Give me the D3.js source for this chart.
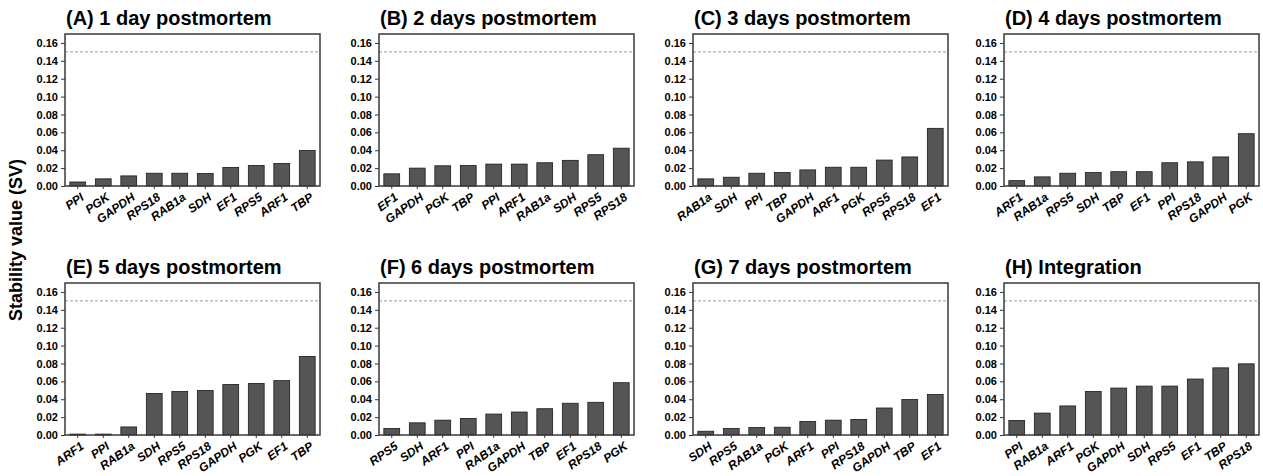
<!DOCTYPE html>
<html>
<head>
<meta charset="utf-8">
<script src="https://cdn.jsdelivr.net/npm/d3@7"></script>
<style>
  body { margin: 0; background: #fff; }
  #chart svg { display: block; font-family: "Liberation Sans", Arial, sans-serif; }
  .tick text { font-weight: bold; }
</style>
</head>
<body>
<div id="chart"></div>
<script>
const titles = [
  '(A) 1 day postmortem', '(B) 2 days postmortem', '(C) 3 days postmortem', '(D) 4 days postmortem',
  '(E) 5 days postmortem', '(F) 6 days postmortem', '(G) 7 days postmortem', '(H) Integration'
];

const genesA = ['PPI', 'PGK', 'GAPDH', 'RPS18', 'RAB1a', 'SDH', 'EF1', 'RPS5', 'ARF1', 'TBP'];
const valuesA = [0.0045, 0.008, 0.0113, 0.0143, 0.0143, 0.014, 0.0208, 0.023, 0.0253, 0.0396];

const genesB = ['EF1', 'GAPDH', 'PGK', 'TBP', 'PPI', 'ARF1', 'RAB1a', 'SDH', 'RPS5', 'RPS18'];
const valuesB = [0.0136, 0.020, 0.0226, 0.023, 0.0245, 0.0245, 0.026, 0.0287, 0.035, 0.0423];

const genesC = ['RAB1a', 'SDH', 'PPI', 'TBP', 'GAPDH', 'ARF1', 'PGK', 'RPS5', 'RPS18', 'EF1'];
const valuesC = [0.008, 0.0098, 0.0143, 0.015, 0.018, 0.021, 0.021, 0.029, 0.0325, 0.0645];

const genesD = ['ARF1', 'RAB1a', 'RPS5', 'SDH', 'TBP', 'EF1', 'PPI', 'RPS18', 'GAPDH', 'PGK'];
const valuesD = [0.006, 0.0102, 0.0143, 0.015, 0.016, 0.016, 0.026, 0.027, 0.0325, 0.0585];

const genesE = ['ARF1', 'PPI', 'RAB1a', 'SDH', 'RPS5', 'RPS18', 'GAPDH', 'PGK', 'EF1', 'TBP'];
const valuesE = [0.001, 0.001, 0.009, 0.0464, 0.0487, 0.0498, 0.0566, 0.0577, 0.0608, 0.0879];

const genesF = ['RPS5', 'SDH', 'ARF1', 'PPI', 'RAB1a', 'GAPDH', 'TBP', 'EF1', 'RPS18', 'PGK'];
const valuesF = [0.0072, 0.0136, 0.0166, 0.0185, 0.0234, 0.0257, 0.0294, 0.0355, 0.0366, 0.0585];

const genesG = ['SDH', 'RPS5', 'RAB1a', 'PGK', 'ARF1', 'PPI', 'RPS18', 'GAPDH', 'TBP', 'EF1'];
const valuesG = [0.0042, 0.0072, 0.0083, 0.0087, 0.0151, 0.0166, 0.0174, 0.0302, 0.0396, 0.0453];

const genesH = ['PPI', 'RAB1a', 'ARF1', 'PGK', 'GAPDH', 'SDH', 'RPS5', 'EF1', 'TBP', 'RPS18'];
const valuesH = [0.0162, 0.0245, 0.0325, 0.0487, 0.0525, 0.0547, 0.0547, 0.0626, 0.0751, 0.0796];

const yTicks = [0, 0.02, 0.04, 0.06, 0.08, 0.10, 0.12, 0.14, 0.16];
const cutoff = 0.15;
const yMax = 0.17;

const panels = [
  [genesA, valuesA], [genesB, valuesB], [genesC, valuesC], [genesD, valuesD],
  [genesE, valuesE], [genesF, valuesF], [genesG, valuesG], [genesH, valuesH]
];

const draw = () => {
  const dimensions = {
    width: 1263,
    height: 476,
    panelWidth: 255,
    panelHeight: 152,
    colLeft: [65, 379, 693, 1004],
    rowTop: [34, 283]
  };

  const svg = d3.select('#chart')
    .append('svg')
    .attr('width', dimensions.width)
    .attr('height', dimensions.height);

  svg.append('text')
    .attr('transform', 'translate(22, 240) rotate(-90)')
    .attr('text-anchor', 'middle')
    .attr('font-size', 18)
    .attr('font-weight', 'bold')
    .text('Stability value (SV)');

  const yScale = d3.scaleLinear()
    .domain([0, yMax])
    .range([dimensions.panelHeight, 0]);

  panels.forEach(([genes, values], i) => {
    const left = dimensions.colLeft[i % 4];
    const top = dimensions.rowTop[Math.floor(i / 4)];

    const container = svg.append('g')
      .attr('transform', `translate(${left}, ${top})`);

    const xScale = d3.scaleBand()
      .domain(genes)
      .range([0, dimensions.panelWidth])
      .paddingInner(0.38)
      .paddingOuter(0.19);

    container.append('text')
      .attr('x', 1)
      .attr('y', -9)
      .attr('font-size', 20)
      .attr('font-weight', 'bold')
      .text(titles[i]);

    // cut-off line
    container.append('line')
      .attr('x1', 0)
      .attr('x2', dimensions.panelWidth)
      .attr('y1', yScale(cutoff))
      .attr('y2', yScale(cutoff))
      .attr('stroke', '#9a9a9a')
      .attr('stroke-width', 1)
      .attr('stroke-dasharray', '3,2');

    container.selectAll('rect.bar')
      .data(values)
      .join('rect')
      .classed('bar', true)
      .attr('x', (d, j) => xScale(genes[j]))
      .attr('y', (d) => yScale(d))
      .attr('width', xScale.bandwidth())
      .attr('height', (d) => yScale(0) - yScale(d))
      .attr('fill', '#555555')
      .attr('stroke', '#1a1a1a')
      .attr('stroke-width', 0.8);

    const yAxis = d3.axisLeft(yScale)
      .tickValues(yTicks)
      .tickFormat(d3.format('.2f'))
      .tickSize(4)
      .tickPadding(3);

    const yAxisGroup = container.append('g')
      .call(yAxis);
    yAxisGroup.select('.domain').remove();
    yAxisGroup.selectAll('text')
      .attr('font-size', 11)
      .attr('font-family', '"Liberation Sans", Arial, sans-serif')
      .attr('fill', '#000');
    yAxisGroup.selectAll('line').attr('stroke', '#333');

    const xAxis = d3.axisBottom(xScale)
      .tickSize(3)
      .tickPadding(2);

    const xAxisGroup = container.append('g')
      .attr('transform', `translate(0, ${dimensions.panelHeight})`)
      .call(xAxis);
    xAxisGroup.select('.domain').remove();
    xAxisGroup.selectAll('line').attr('stroke', '#333');
    xAxisGroup.selectAll('text')
      .attr('font-size', 12)
      .attr('font-style', 'italic')
      .attr('font-family', '"Liberation Sans", Arial, sans-serif')
      .attr('fill', '#000')
      .attr('text-anchor', 'end')
      .attr('dy', null)
      .attr('y', 0)
      .attr('transform', 'translate(7, 13) rotate(-35)');

    // frame
    container.append('rect')
      .attr('width', dimensions.panelWidth)
      .attr('height', dimensions.panelHeight)
      .attr('fill', 'none')
      .attr('stroke', '#3a3a3a')
      .attr('stroke-width', 1.5);
  });
};

draw();
</script>
</body>
</html>
